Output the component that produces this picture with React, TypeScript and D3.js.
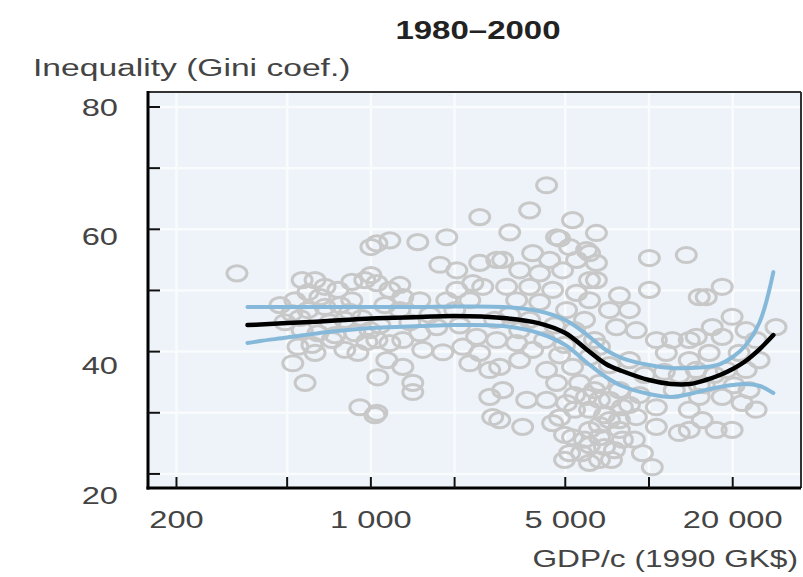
import * as d3 from 'd3';

// GDP per capita (1990 GK$) and Gini coefficient
const countryPoints: [number, number][] = [
  [330, 52.8], [566, 51.7], [630, 51.7], [533, 48.4], [594, 49.7], [684, 50.6], [761, 50.1],
  [854, 51.4], [951, 51.7], [520, 46.3], [594, 46.8], [684, 47.3], [566, 43.5], [645, 43.0],
  [725, 41.9], [876, 43.0], [524, 38.1], [580, 34.9], [630, 39.8], [547, 40.8], [898, 39.8],
  [913, 30.9], [1034, 29.6], [1000, 57.1], [774, 47.6], [854, 48.4], [491, 44.8], [806, 45.2],
  [928, 45.5], [713, 44.8], [614, 41.1], [806, 40.3], [967, 41.6], [471, 47.6],
  [656, 48.9], [556, 45.5], [840, 46.5], [743, 42.7], [992, 43.5],
  [2463, 62.0], [1051, 57.7], [1170, 58.2], [1475, 57.9], [1875, 58.7], [1770, 54.2], [2037, 53.3],
  [2463, 54.5], [2835, 55.0], [1051, 51.2], [1170, 50.1], [1303, 48.9], [2037, 50.1], [2325, 51.2],
  [2525, 50.6], [1875, 48.4], [2268, 48.4], [1051, 41.9], [1170, 41.4], [1303, 41.9], [1537, 40.3],
  [1814, 39.9], [2140, 40.8], [2463, 39.8], [1141, 38.6], [1303, 37.5], [1059, 35.8], [1415, 34.9],
  [1415, 33.4], [2268, 38.1], [2675, 37.0], [2675, 32.6], [1051, 30.0], [2742, 29.3], [1726, 44.0],
  [1500, 43.0], [2400, 42.4], [1123, 47.6], [1271, 46.8], [1500, 48.4], [1629, 46.0], [2003, 46.8],
  [1077, 44.3], [2088, 44.3], [2788, 45.2], [1381, 44.8], [1000, 52.5], [1271, 50.9],
  [4284, 67.2], [3723, 63.1], [3156, 59.5], [5310, 61.5], [6471, 59.4], [4652, 58.7], [3817, 56.1],
  [2978, 55.0], [4392, 55.0], [5489, 55.0], [6111, 56.1], [3428, 53.3], [4044, 52.8], [4890, 53.3],
  [6111, 51.7], [3077, 50.6], [3723, 50.6], [4502, 50.1], [5489, 49.6], [3344, 48.4], [4044, 48.1],
  [5054, 46.8], [6111, 48.4], [2835, 41.9], [3344, 41.4], [3817, 40.3], [2906, 37.5], [3428, 38.6],
  [4284, 37.0], [5310, 37.5], [6111, 39.1], [4652, 34.9], [5627, 34.9], [2978, 33.7], [3633, 32.1],
  [4284, 32.1], [5054, 31.6], [5962, 32.6], [2906, 28.8], [3514, 27.7], [4502, 28.3], [5310, 26.0],
  [6111, 27.2], [5721, 23.4], [5181, 23.4], [6111, 21.8], [5181, 57.1], [5962, 56.6], [4770, 58.5],
  [3156, 46.0], [3723, 45.2], [4577, 44.3], [5399, 43.5], [4214, 41.9], [4971, 41.1], [5864, 45.2],
  [3428, 43.5], [6369, 41.9], [4770, 39.4], [4971, 26.4], [5864, 25.6], [6917, 24.4], [5399, 30.5],
  [6637, 28.0], [7829, 27.2], [6111, 24.7], [4770, 29.2],
  [6111, 30.5], [6917, 29.6], [7829, 28.8], [5399, 32.9], [6369, 33.7], [7209, 32.1], [8503, 31.3],
  [7513, 23.9], [8862, 25.6], [6637, 22.3], [4971, 22.3],
  [10030, 55.3], [13620, 55.8], [6471, 54.5], [6471, 51.7], [10030, 50.1], [15158, 48.9], [7829, 49.2],
  [7209, 46.8], [8503, 46.8], [7640, 44.0], [9000, 43.5], [10630, 41.9], [12130, 41.9], [13956, 41.9],
  [6637, 40.8], [11540, 39.8], [13956, 38.6], [6637, 32.1], [8025, 30.9], [10630, 30.9], [13956, 30.5],
  [7209, 28.8], [9005, 29.3], [10630, 27.7], [12850, 26.7], [6637, 26.0], [8025, 25.6], [9470, 23.4],
  [7330, 22.3], [10280, 21.1], [7209, 37.8], [8503, 38.6], [9625, 36.2], [11353, 36.7], [12850, 36.2],
  [6637, 34.9], [7829, 33.7], [9235, 32.9], [12330, 33.7], [15158, 34.5],
  [16060, 48.9], [18330, 50.6], [19900, 45.7], [16880, 44.0], [14780, 42.4], [18330, 42.4],
  [22350, 43.5], [28620, 44.0], [21090, 39.8], [16460, 39.8], [24270, 41.9], [14780, 37.0],
  [18950, 37.0], [22350, 37.0], [15158, 32.6], [18330, 32.6], [24270, 30.5], [21620, 31.6],
  [15540, 28.8], [17440, 27.2], [19900, 27.2], [13956, 27.2], [17157, 36.2], [20238, 34.5],
  [15797, 34.5], [22906, 33.7], [24878, 38.6],
];

// fitted curve and its confidence band
const fitGdp = [360, 400, 500, 700, 1000, 1500, 2000, 3000, 4000, 5000, 6000, 7000, 8000, 10000, 12000, 14000, 16000, 18000, 20000, 22000, 25000, 28000];
const fitMid = [44.35, 44.43, 44.67, 45.0, 45.4, 45.65, 45.82, 45.49, 44.67, 43.04, 40.26, 37.97, 36.83, 35.36, 34.71, 34.71, 35.36, 36.18, 37.16, 38.3, 40.42, 42.71];
const fitUpper = [47.29, 47.29, 47.29, 47.29, 47.29, 47.29, 47.37, 47.29, 46.63, 45.16, 42.71, 40.26, 38.95, 37.81, 37.32, 37.32, 37.48, 37.97, 39.12, 40.75, 44.84, 53.0];
const fitLower = [41.41, 41.73, 42.3, 43.2, 43.86, 44.18, 44.35, 44.18, 43.04, 41.08, 38.14, 35.85, 34.38, 33.07, 32.58, 33.07, 33.73, 34.22, 34.54, 34.71, 34.38, 33.24];

const xTicks = [200, 500, 1000, 2000, 5000, 10000, 20000];
const xTickLabels = [
  { v: 200, t: '200' },
  { v: 1000, t: '1 000' },
  { v: 5000, t: '5 000' },
  { v: 20000, t: '20 000' },
];
const yTicks = [20, 30, 40, 50, 60, 70, 80];
const yTickLabels = [20, 40, 60, 80];

const W = 803;
const H = 577;
const plot = { left: 148, right: 801, top: 92, bottom: 488 };
const stretch = 1.36;
const font = '"Liberation Sans", Arial, sans-serif';

export default function App() {
  const x = d3.scaleLog().domain([158, 35200]).range([plot.left, plot.right]);
  const y = d3.scaleLinear().domain([17.7, 82.45]).range([plot.bottom, plot.top]);

  const line = (vals: number[]) =>
    d3.line<number>()
      .x((_, i) => x(fitGdp[i]))
      .y(d => y(d))
      .curve(d3.curveCatmullRom.alpha(0.5))(vals) || '';

  return (
    <svg width={W} height={H} style={{ position: 'absolute', left: 0, top: 0, background: '#fff' }}>
      <rect x={plot.left} y={plot.top} width={plot.right - plot.left} height={plot.bottom - plot.top} fill="#edf3f9" />
      {xTicks.map(v => (
        <line key={'gx' + v} x1={x(v)} x2={x(v)} y1={plot.top} y2={plot.bottom} stroke="#f9fbfd" strokeWidth={2.5} />
      ))}
      {yTicks.map(v => (
        <line key={'gy' + v} x1={plot.left} x2={plot.right} y1={y(v)} y2={y(v)} stroke="#f9fbfd" strokeWidth={2.5} />
      ))}

      <g fill="none" stroke="#c8c8c8" strokeWidth={3}>
        {countryPoints.map(([g, v], i) => (
          <ellipse key={i} cx={x(g)} cy={y(v)} rx={10} ry={7.6} />
        ))}
      </g>

      <path d={line(fitUpper)} fill="none" stroke="#86b9d9" strokeWidth={4} strokeLinecap="round" />
      <path d={line(fitLower)} fill="none" stroke="#86b9d9" strokeWidth={4} strokeLinecap="round" />
      <path d={line(fitMid)} fill="none" stroke="#000" strokeWidth={4.5} strokeLinecap="round" />

      {/* frame */}
      <line x1={plot.left} x2={plot.right} y1={plot.top} y2={plot.top} stroke="#333" strokeWidth={2} />
      <line x1={plot.right} x2={plot.right} y1={plot.top} y2={plot.bottom} stroke="#333" strokeWidth={2} />
      <line x1={plot.left} x2={plot.left} y1={plot.top - 1} y2={plot.bottom + 1.5} stroke="#000" strokeWidth={3} />
      <line x1={plot.left - 1.5} x2={plot.right} y1={plot.bottom} y2={plot.bottom} stroke="#000" strokeWidth={3} />

      {yTicks.map(v => (
        <line key={'ty' + v} x1={plot.left} x2={plot.left + 12} y1={y(v)} y2={y(v)} stroke="#111" strokeWidth={2} />
      ))}
      {xTicks.map(v => (
        <line key={'tx' + v} x1={x(v)} x2={x(v)} y1={plot.bottom} y2={plot.bottom - 11} stroke="#111" strokeWidth={2} />
      ))}

      <g fontFamily={font} fontSize={24} fill="#444">
        {yTickLabels.map(v => (
          <text key={'ly' + v} transform={`translate(118,${y(v) + (80 - v) * 0.35}) scale(${stretch},1)`} textAnchor="end" dy="0.36em">
            {v}
          </text>
        ))}
        {xTickLabels.map(d => (
          <text key={'lx' + d.v} transform={`translate(${x(d.v)},519) scale(${stretch},1)`} textAnchor="middle" dy="0.36em">
            {d.t}
          </text>
        ))}
        <text transform={`translate(798,558) scale(${stretch * 0.97},1)`} textAnchor="end" dy="0.36em">
          GDP/c (1990 GK$)
        </text>
        <text transform={`translate(33,67) scale(${stretch * 1.03},1)`} dy="0.36em">
          Inequality (Gini coef.)
        </text>
      </g>
      <text
        transform={`translate(478,30) scale(1.32,1)`}
        textAnchor="middle"
        dy="0.36em"
        fontFamily={font}
        fontSize={25}
        fontWeight="bold"
        fill="#222"
      >
        1980–2000
      </text>
    </svg>
  );
}
